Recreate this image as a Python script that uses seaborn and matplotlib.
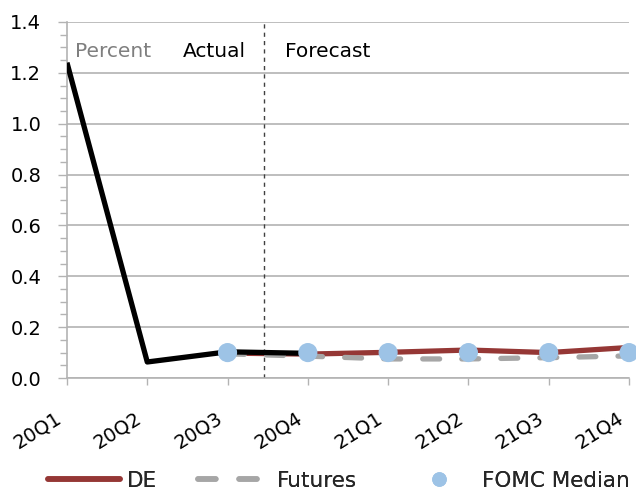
import matplotlib
matplotlib.use("Agg")
import matplotlib.pyplot as plt
from matplotlib.lines import Line2D
from matplotlib.ticker import MultipleLocator
from matplotlib.transforms import ScaledTranslation
import seaborn as sns
import pandas as pd

# Quarter labels on the x axis
quarters = ["20Q1", "20Q2", "20Q3", "20Q4", "21Q1", "21Q2", "21Q3", "21Q4"]

# Realised rate (percent)
actual_q = ["20Q1", "20Q2", "20Q3", "20Q4"]
actual = [1.24, 0.063, 0.103, 0.097]

# Model forecast
de_q = ["20Q3", "20Q4", "21Q1", "21Q2", "21Q3", "21Q4"]
de = [0.098, 0.094, 0.101, 0.110, 0.100, 0.120]

# Market-implied path
futures_q = ["20Q3", "20Q4", "21Q1", "21Q2", "21Q3", "21Q4"]
futures = [0.095, 0.086, 0.075, 0.075, 0.080, 0.087]

# FOMC median projection
fomc_q = ["20Q3", "20Q4", "21Q1", "21Q2", "21Q3", "21Q4"]
fomc = [0.10, 0.10, 0.10, 0.10, 0.10, 0.10]

pos = {q: i for i, q in enumerate(quarters)}
df_act = pd.DataFrame({"x": [pos[q] for q in actual_q], "y": actual})
df_de = pd.DataFrame({"x": [pos[q] for q in de_q], "y": de})
df_fut = pd.DataFrame({"x": [pos[q] for q in futures_q], "y": futures})
df_fomc = pd.DataFrame({"x": [pos[q] for q in fomc_q], "y": fomc})

sns.set_theme(style="white")
plt.rcParams["font.family"] = ["DejaVu Sans"]

RED = "#953735"
GREY = "#A6A6A6"
BLUE = "#9DC3E6"
GRID = "#B3B3B3"
DASHES = [3.2, 4.2]

fig = plt.figure(figsize=(6.36, 4.94), dpi=100)
ax = fig.add_axes([0.1053, 0.2348, 0.8837, 0.7207])

sns.lineplot(data=df_de, x="x", y="y", ax=ax, color=RED, lw=3.8,
             solid_capstyle="round", zorder=3)
sns.lineplot(data=df_fut, x="x", y="y", ax=ax, color=GREY, lw=3.8,
             zorder=4)
ax.lines[-1].set_dashes(DASHES)
ax.lines[-1].set_dash_capstyle("round")
sns.lineplot(data=df_act, x="x", y="y", ax=ax, color="black", lw=3.8,
             solid_capstyle="butt", zorder=5)
sns.scatterplot(data=df_fomc, x="x", y="y", ax=ax, color=BLUE, s=190,
                edgecolor="none", zorder=6, clip_on=False)

ax.set_xlim(0, 7)
ax.set_ylim(0, 1.4)
ax.yaxis.set_major_locator(MultipleLocator(0.2))
ax.yaxis.set_minor_locator(MultipleLocator(0.05))
ax.set_yticklabels([f"{v:.1f}" for v in ax.get_yticks()])
ax.set_xticks(range(len(quarters)))
ax.set_xlabel("")
ax.set_ylabel("")

ax.grid(axis="y", color=GRID, lw=1.2)
ax.set_axisbelow(True)
for s in ["top", "right"]:
    ax.spines[s].set_visible(False)
for s in ["left", "bottom"]:
    ax.spines[s].set_color(GRID)
    ax.spines[s].set_linewidth(1.2)

ax.tick_params(axis="y", which="major", left=True, length=6.5, width=1.0,
               color=GRID, labelsize=14, pad=12, labelcolor="black")
ax.tick_params(axis="y", which="minor", left=True, length=5, width=1.0,
               color=GRID)
ax.tick_params(axis="x", which="major", bottom=True, length=5, width=1.0,
               color=GRID, labelsize=14, pad=17, labelcolor="black")

ax.set_xticklabels(quarters, rotation=32, ha="right", va="top",
                   rotation_mode="anchor")
# Nudge the slanted quarter labels left so they finish under their ticks
shift = ScaledTranslation(-12 / 100, 0, fig.dpi_scale_trans)
for tick in ax.xaxis.get_major_ticks():
    tick.label1.set_transform(tick.label1.get_transform() + shift)

# Boundary between realised and forecast quarters
ax.axvline(2.46, color="#404040", lw=1.0, ls=(0, (3, 3)), zorder=2)

ax.text(0.1, 1.285, "Percent", color="#7F7F7F", fontsize=14.5, va="center")
ax.text(1.445, 1.285, "Actual", color="black", fontsize=14.5, va="center")
ax.text(2.715, 1.285, "Forecast", color="black", fontsize=14.5, va="center")

# Legend entries placed individually along the bottom
W, H = 636, 494
fs = 15.5
entries = [
    (Line2D([], [], color=RED, lw=4, solid_capstyle="round"), "DE",
     48, 3.35, 0.33),
    (Line2D([], [], color=GREY, lw=4, dashes=DASHES, dash_capstyle="round"),
     "Futures", 198, 3.0, 0.65),
    (Line2D([], [], color=BLUE, marker="o", ls="none", markersize=10.5,
            markeredgecolor="none"), "FOMC Median", 417, 2.0, 1.0),
]
for handle, label, x0, hl, tp in entries:
    leg = fig.legend([handle], [label], loc="center left",
                     bbox_to_anchor=(x0 / W, 1 - 481 / H), frameon=False,
                     fontsize=fs, handlelength=hl, handletextpad=tp,
                     borderpad=0, borderaxespad=0)
    fig.add_artist(leg)

fig.savefig("out.png", dpi=100)
